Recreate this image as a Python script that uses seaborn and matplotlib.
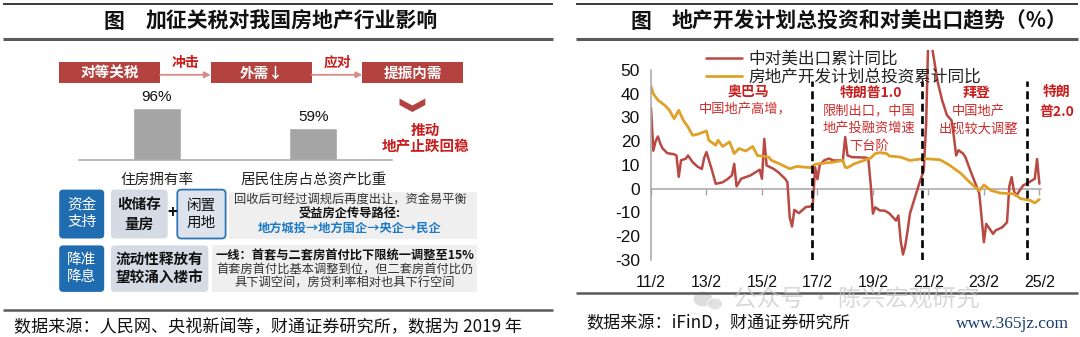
import numpy as np
import pandas as pd
import matplotlib
matplotlib.use("Agg")
import matplotlib.pyplot as plt
import seaborn as sns
from matplotlib.patches import FancyBboxPatch, Rectangle, Polygon, Ellipse
from matplotlib.lines import Line2D

sns.set_theme(style="white")
plt.rcParams['font.family'] = ['Noto Sans CJK SC', 'DejaVu Sans']
plt.rcParams['axes.unicode_minus'] = False

# ---------------- data: line chart ----------------
series_names = ["中对美出口累计同比", "房地产开发计划总投资累计同比"]
red_dates = ["2011-02", "2011-03", "2011-04", "2011-05", "2011-06", "2011-07", "2011-09", "2011-12",
             "2012-01", "2012-02", "2012-03", "2012-05", "2012-06", "2012-08", "2012-10", "2012-12",
             "2013-01", "2013-02", "2013-04", "2013-06", "2013-09", "2013-11",
             "2014-01", "2014-02", "2014-03", "2014-05", "2014-09", "2014-12",
             "2015-01", "2015-02", "2015-03", "2015-04", "2015-07", "2015-09", "2015-12",
             "2016-01", "2016-02", "2016-03", "2016-04", "2016-06", "2016-07", "2016-09", "2016-11", "2016-12",
             "2017-01", "2017-02", "2017-03", "2017-05", "2017-07", "2017-09",
             "2018-01", "2018-02", "2018-03", "2018-05", "2018-11", "2018-12",
             "2019-01", "2019-02", "2019-03", "2019-05", "2019-07", "2019-09", "2019-12",
             "2020-01", "2020-02", "2020-03", "2020-04", "2020-05", "2020-06", "2020-08", "2020-10", "2020-12",
             "2021-01", "2021-02", "2021-03", "2021-04", "2021-05", "2021-06", "2021-08", "2021-10", "2021-12",
             "2022-01", "2022-02", "2022-03", "2022-05", "2022-06", "2022-08", "2022-10", "2022-12",
             "2023-01", "2023-02", "2023-03", "2023-04", "2023-06", "2023-07", "2023-10", "2023-12",
             "2024-01", "2024-02", "2024-03", "2024-04", "2024-05", "2024-07", "2024-09", "2024-12",
             "2025-01", "2025-02"]
red_values = [34, 16, 20, 22, 19, 17, 15, 14.5,
              14, 5, 12, 12.6, 14, 11.2, 9.4, 8.3,
              13, 15.4, 9, 2.1, 2.7, 4,
              5.6, 10.5, 1, 4.2, 5.6, 7.4,
              8, 4.2, 21, 9.8, 8.4, 7, 4.2,
              2.8, -12, -15.9, -8.9, -10.3, -9.4, -7.7, -7.5, -6.3,
              9, 4, 10, 12, 12.7, 11.9,
              11.9, 21.8, 14, 13.3, 13.1, 12.7,
              2.1, -10.5, -7.8, -9.2, -9.2, -10.3, -13.4,
              -11.3, -21.8, -27.7, -23.9, -17.6, -10.5, -4.2, 2.1, 7.7,
              27, 66, 64, 57, 51, 45, 37, 31, 28.8,
              22, 14, 16.2, 14.8, 13.3, 8, 3, -2,
              -12, -22.5, -14.8, -16.2, -19, -17.6, -16.2, -14.1,
              1, 4.9, -1, -3, -1.4, 1.4, 2.4, 4.2,
              12.5, 2.1]

gold_dates = ["2011-02", "2011-03", "2011-05", "2011-08", "2011-10", "2011-12",
              "2012-02", "2012-04", "2012-06", "2012-08", "2012-10",
              "2013-02", "2013-03", "2013-06", "2013-07", "2013-09", "2013-12",
              "2014-02", "2014-04", "2014-07", "2014-10", "2014-12",
              "2015-03", "2015-05", "2015-06", "2015-10",
              "2016-02", "2016-05", "2016-08", "2016-11",
              "2017-01", "2017-05", "2017-09",
              "2018-01", "2018-02", "2018-03", "2018-06", "2018-10",
              "2019-01", "2019-03", "2019-05", "2019-08", "2019-09",
              "2020-02", "2020-06", "2020-12",
              "2021-07", "2021-11", "2022-04", "2022-08", "2022-12",
              "2023-02", "2023-05", "2023-09",
              "2024-03", "2024-06", "2024-10", "2024-12", "2025-02"]
gold_values = [43, 40, 37.3, 35.1, 33, 29.5,
               33, 28.8, 26, 22.5, 22.9,
               24.3, 20.4, 18.3, 20.4, 17.8, 19.7,
               14.8, 16.9, 15.9, 17.8, 14,
               13.6, 13.3, 12, 10.3,
               8.4, 9.4, 9.1, 8.9,
               10.3, 10.8, 11.2,
               11.9, 9, 8.9, 10.5, 11.9,
               12.9, 14.8, 15.2, 14.8, 13.8,
               13.3, 11.9, 12.7,
               12.2, 10, 6.5, 2.6, -0.8,
               1.6, -0.7, -1.8,
               -2.2, -4.2, -4.9, -6, -4.5]

event_dates = ["2016-11-20", "2020-11-04", "2024-08-15"]
tick_dates = ["2011-02", "2013-02", "2015-02", "2017-02", "2019-02", "2021-02", "2023-02", "2025-02"]
tick_labels = ["11/2", "13/2", "15/2", "17/2", "19/2", "21/2", "23/2", "25/2"]
y_ticks = [50, 40, 30, 20, 10, 0, -10, -20, -30]

annotations = [("奥巴马", "中国地产高增，"),
               ("特朗普1.0", "限制出口，中国\n地产投融资增速\n下台阶"),
               ("拜登", "中国地产\n出现较大调整"),
               ("特朗\n普2.0", "")]

# ---------------- data: bar chart ----------------
bar_categories = ["住房拥有率", "居民住房占总资产比重"]
bar_values = [96, 59]

# ---------------- colours ----------------
RED = "#BA4843"
GOLD = "#DFA127"
BOXRED = "#B4423E"
ANNRED = "#C81E1E"
BLUE = "#1F6CB0"
GRAY = "#A6A6A6"

W, H = 1080, 337
fig = plt.figure(figsize=(W / 100, H / 100), dpi=100)
fig.patch.set_facecolor("white")


def month_index(s):
    t = pd.Timestamp(s)
    return (t.year - 2011) * 12 + (t.month - 2) + (t.day - 1) / t.days_in_month


# ================= right: line chart =================
ax = fig.add_axes([651 / W, 1 - 260 / H, 390 / W, 210 / H])
df = pd.concat([
    pd.DataFrame({"m": [month_index(d) for d in red_dates], "v": red_values, "s": series_names[0]}),
    pd.DataFrame({"m": [month_index(d) for d in gold_dates], "v": gold_values, "s": series_names[1]}),
])
sns.lineplot(data=df, x="m", y="v", hue="s", palette=[RED, GOLD], ax=ax,
             linewidth=1.8, estimator=None, sort=False, legend=False)
for ln, lw in zip(ax.lines, [1.8, 2.0]):
    ln.set_linewidth(lw)
ax.set_xlim(0, 168.7)
ylo, yhi = -30, 58.4
ax.set_ylim(ylo, yhi)
ax.set_xlabel("")
ax.set_ylabel("")
for d in event_dates:
    ax.axvline(month_index(d), ymin=0, ymax=(45.5 - ylo) / (yhi - ylo), color="black",
               lw=1.9, linestyle=(0, (3.0, 1.7)), zorder=5)

tick_pos = [month_index(d) for d in tick_dates]
ax.set_xticks(tick_pos)
ax.set_xticklabels(tick_labels, family=["Liberation Sans"], fontsize=11.5, color="#111111")
ax.tick_params(axis="x", length=0, pad=11)
ax.set_yticks(y_ticks)
ax.set_yticklabels([str(v) for v in y_ticks], family=["Liberation Sans"], fontsize=12.5, color="#111111")
ax.tick_params(axis="y", direction="out", length=4, width=1, color=GRAY, pad=4)
for s in ["top", "right", "bottom"]:
    ax.spines[s].set_visible(False)
ax.spines["left"].set_color(GRAY)
ax.spines["left"].set_linewidth(1.1)
ax.spines["left"].set_bounds(-30, 50)
ax.grid(False)

zero_frac = (0 - ylo) / (yhi - ylo)
sec = ax.secondary_xaxis(zero_frac)
sec.set_xticks(tick_pos)
sec.tick_params(axis="x", direction="out", length=4, width=1, color=GRAY,
                labelbottom=False, labeltop=False)
sec.spines["bottom"].set_color(GRAY)
sec.spines["bottom"].set_linewidth(1.1)

handles = [Line2D([], [], color=RED, lw=1.8), Line2D([], [], color=GOLD, lw=2.0)]
leg = ax.legend(handles, series_names, loc="upper left", bbox_to_anchor=(706 / W, 1 - 51 / H),
                bbox_transform=fig.transFigure, frameon=False, fontsize=12, handlelength=2.15,
                handletextpad=0.4, labelspacing=0.05, borderpad=0, borderaxespad=0)
for t in leg.get_texts():
    t.set_color("#222222")

# ================= left: bar chart =================
bx = fig.add_axes([78.5 / W, 1 - 160.2 / H, 313 / W, 70.2 / H])
bdf = pd.DataFrame({"c": bar_categories, "v": bar_values})
sns.barplot(data=bdf, x="c", y="v", color="#A5A5A5", saturation=1, width=0.308, ax=bx)
bx.set_xlim(-0.5, 1.5)
bx.set_ylim(0, 128.8)
bx.set_xlabel("")
bx.set_ylabel("")
bx.set_yticks([])
for s in ["top", "right", "left"]:
    bx.spines[s].set_visible(False)
bx.spines["bottom"].set_color(GRAY)
bx.spines["bottom"].set_linewidth(1.1)
bx.set_xticks([-0.5, 0.5, 1.5], minor=True)
bx.tick_params(axis="x", which="minor", direction="out", length=4, width=1, color=GRAY)
bx.tick_params(axis="x", which="major", length=0, pad=9, labelsize=10.5, labelcolor="#222222")
for c in bx.containers:
    bx.bar_label(c, labels=[f"{v}%" for v in bar_values], padding=3,
                 fontsize=11, family=["Liberation Sans"], color="#111111")
bx.patch.set_alpha(0)

# ================= overlay (layout, decorations, text) =================
ov = fig.add_axes([0, 0, 1, 1], zorder=10)
ov.set_xlim(0, W)
ov.set_ylim(H, 0)
ov.axis("off")


def T(x, y, s, size, color="black", weight="normal", ha="center", va="center", family=None, **kw):
    kws = dict(fontsize=size, color=color, fontweight=weight, ha=ha, va=va)
    if family:
        kws["family"] = family
    kws.update(kw)
    return ov.text(x, y, s, **kws)


# header / footer rules
for x0, x1 in [(3, 553), (576, 1078)]:
    ov.plot([x0, x1], [4.2, 4.2], color="#3a3a3a", lw=1.4, solid_capstyle="butt")
    ov.plot([x0, x1], [38.9, 38.9], color="#5a5a5a", lw=2.2, solid_capstyle="butt")
ov.plot([3, 553], [310, 310], color="#5a5a5a", lw=1.8, solid_capstyle="butt")
ov.plot([576, 1078], [293.4, 293.4], color="#5a5a5a", lw=1.8, solid_capstyle="butt")

# titles
T(114, 21, "图", 15, color="#111111", weight="bold")
T(146, 21, "加征关税对我国房地产行业影响", 15, color="#111111", weight="bold", ha="left")
T(641, 21, "图", 15, color="#111111", weight="bold")
T(672, 21, "地产开发计划总投资和对美出口趋势（%）", 15, color="#111111", weight="bold", ha="left")

# footers
T(13.8, 327, "数据来源：人民网、央视新闻等，财通证券研究所，数据为 2019 年", 12.3, color="#111111", ha="left")
T(586.5, 323.5, "数据来源：iFinD，财通证券研究所", 12.3, color="#111111", ha="left")
T(956, 323.5, "www.365jz.com", 12.5, color="#1B3F73", ha="left", family=["Liberation Serif"])

# flow row
flow_boxes = [(59.2, "对等关税"), (210.7, "外需↓"), (362.3, "提振内需")]
for x0, label in flow_boxes:
    ov.add_patch(Rectangle((x0, 62), 100.8, 21.4, facecolor=BOXRED, edgecolor="none"))
    T(x0 + 50.4, 72.9, label, 10.5, color="white", weight="bold")
for x0, x1, lab in [(160, 210.7, "冲击"), (311.5, 362.3, "应对")]:
    ov.annotate("", xy=(x1, 74.8), xytext=(x0, 74.8),
                arrowprops=dict(arrowstyle="-|>", color="#D88C88", lw=1.3, mutation_scale=9,
                                shrinkA=0, shrinkB=0))
    T((x0 + x1) / 2 + 0.5, 63, lab, 10, color=ANNRED, weight="bold")
ov.add_patch(Polygon([(399.5, 98.5), (412.4, 105.5), (425.3, 98.5), (425.3, 105),
                      (412.4, 112), (399.5, 105)], closed=True, facecolor=BOXRED, edgecolor="none"))
T(425.3, 130, "推动", 10.5, color=ANNRED, weight="bold")
T(426, 146.4, "地产止跌回稳", 10.5, color=ANNRED, weight="bold")


# policy rows
def rbox(x, y, w, h, fc, ec="none", lw=0):
    ov.add_patch(FancyBboxPatch((x, y), w, h, boxstyle="round,pad=0,rounding_size=4",
                                facecolor=fc, edgecolor=ec, linewidth=lw))


rbox(59.2, 189.6, 45, 48.9, BLUE)
T(81.7, 214, "资金\n支持", 10.5, color="white", linespacing=1.25)
rbox(110.9, 189.6, 56.8, 48.9, "#D5DBE4")
T(139.3, 214, "收储存\n量房", 10.5, color="#111111", weight="bold", linespacing=1.25)
T(172.2, 212.7, "+", 12, color="#111111", weight="bold")
rbox(177.3, 189.6, 48.3, 48.9, "#DDE3EC", ec="#2E75B6", lw=1.3)
T(201.5, 214, "闲置\n用地", 10.5, color="#111111", linespacing=1.25)
ov.add_patch(Rectangle((229, 192), 248, 46.5, facecolor="#EFEFEF", edgecolor="none"))
T(350, 200, "回收后可经过调规后再度出让，资金易平衡", 8.8, color="#333333")
T(350, 214.4, "受益房企传导路径:", 8.8, color="#111111", weight="bold")
T(350, 228.2, "地方城投→地方国企→央企→民企", 8.8, color="#1F7BC6", weight="bold")

rbox(59.2, 245.4, 45, 46.5, BLUE)
T(81.7, 268.6, "降准\n降息", 10.5, color="white", linespacing=1.25)
rbox(110.9, 245.4, 97.4, 46.5, "#D5DBE4")
T(159.6, 268.6, "流动性释放有\n望较涌入楼市", 10.5, color="#111111", weight="bold", linespacing=1.25)
ov.add_patch(Rectangle((211.8, 245.4), 265.1, 46.5, facecolor="#EFEFEF", edgecolor="none"))
T(345, 256.4, "一线：首套与二套房首付比下限统一调整至15%", 8.8, color="#111111", weight="bold")
T(345, 270.2, "首套房首付比基本调整到位，但二套房首付比仍", 8.8, color="#333333")
T(345, 283.3, "具下调空间，房贷利率相对也具下行空间", 8.8, color="#333333")

# line-chart annotations
ann_pos = [(748, 93, 745, 110), (871, 93, 869, 111), (977, 93, 978, 111), (1057, 102, 0, 0)]
for (head, body), (hx, hy, bx_, by_) in zip(annotations, ann_pos):
    T(hx, hy, head, 10, color=ANNRED, weight="bold", linespacing=1.5)
    if body:
        for i, line in enumerate(body.split("\n")):
            T(bx_, by_ + i * 17.7, line, 9.5, color="#D02C2C")

# watermark (faint, below the tick labels)
ov.add_patch(Ellipse((703, 299), 19, 15, facecolor="#CFCFCF", edgecolor="none", alpha=0.7))
ov.add_patch(Ellipse((715, 304), 15, 12, facecolor="#D6D6D6", edgecolor="white", lw=1, alpha=0.7))
T(733, 300, "公众号 · 陈兴宏观研究", 17, color="#C8C8C8", ha="left", alpha=0.7)

fig.savefig("out.png", dpi=100, facecolor="white")
